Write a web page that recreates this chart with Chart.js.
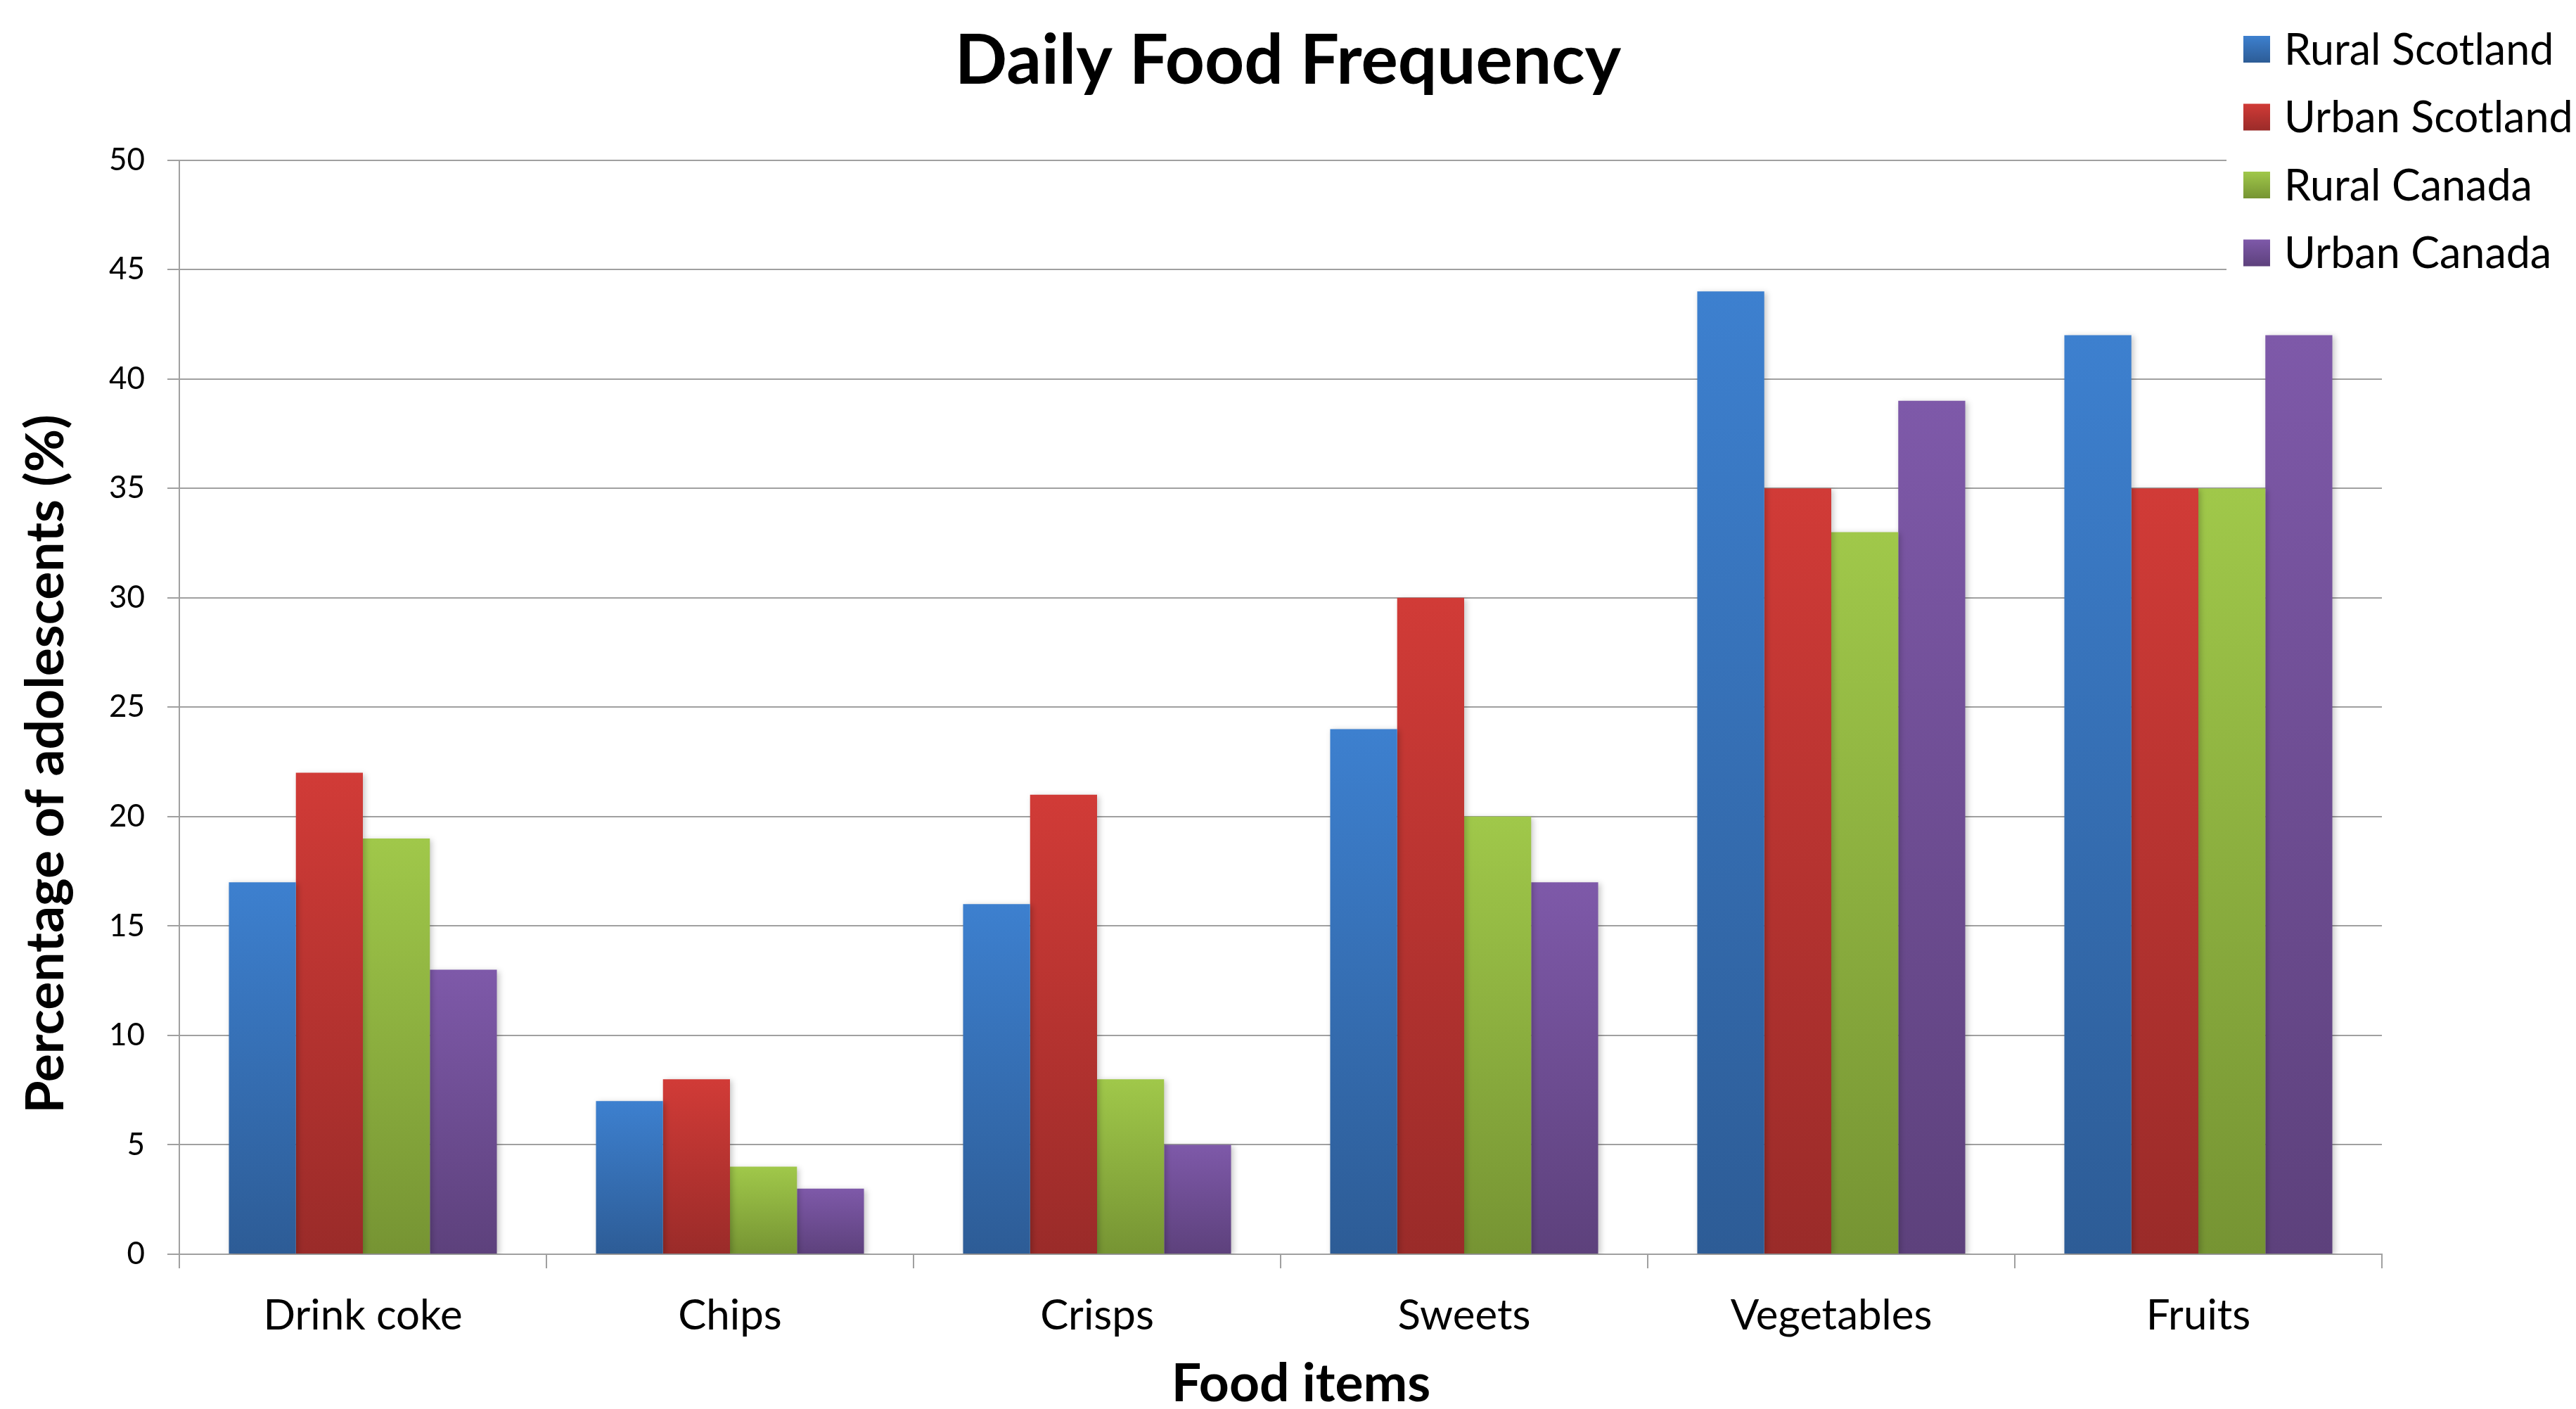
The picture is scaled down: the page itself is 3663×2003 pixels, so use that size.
<!DOCTYPE html>
<html>
<head>
<meta charset="utf-8">
<script src="https://cdn.jsdelivr.net/npm/chart.js@4/dist/chart.umd.min.js"></script>
<style>
  html, body { margin: 0; padding: 0; background: #fff; overflow: hidden; }
  #wrap { width: 3663px; height: 2003px; }
</style>
</head>
<body>
<div id="wrap"><canvas id="c" width="3663" height="2003"></canvas></div>
<script>
// Share of adolescents eating each food item daily (%)
const categories = ['Drink coke', 'Chips', 'Crisps', 'Sweets', 'Vegetables', 'Fruits'];
const seriesNames = ['Rural Scotland', 'Urban Scotland', 'Rural Canada', 'Urban Canada'];
const ruralScotland = [17, 7, 16, 24, 44, 42];
const urbanScotland = [22, 8, 21, 30, 35, 35];
const ruralCanada   = [19, 4, 8, 20, 33, 35];
const urbanCanada   = [13, 3, 5, 17, 39, 42];
const yTickValues   = [0, 5, 10, 15, 20, 25, 30, 35, 40, 45, 50];

const chartTitle = 'Daily Food Frequency';
const xTitle = 'Food items';
const yTitle = 'Percentage of adolescents (%)';

// top / bottom shades for each series' vertical gradient
const shades = [
  ['#3D80CF', '#2D5C96'],
  ['#D13B37', '#9A2B29'],
  ['#A0C84A', '#769433'],
  ['#7E59A9', '#5D417C']
];

const FONT = 'Lato, "Open Sans", sans-serif';

function barGradient(top, bottom) {
  return function (ctx) {
    const chart = ctx.chart;
    const y = chart.scales && chart.scales.y;
    if (!y || ctx.raw == null || !isFinite(y.top)) return top;
    const y0 = y.getPixelForValue(ctx.raw);
    const y1 = y.getPixelForValue(0);
    if (!isFinite(y0) || !isFinite(y1) || y0 === y1) return top;
    const g = chart.ctx.createLinearGradient(0, y0, 0, y1);
    g.addColorStop(0, top);
    g.addColorStop(1, bottom);
    return g;
  };
}

const seriesValues = [ruralScotland, urbanScotland, ruralCanada, urbanCanada];
const datasets = seriesNames.map((name, i) => ({
  label: name,
  data: seriesValues[i],
  backgroundColor: barGradient(shades[i][0], shades[i][1]),
  borderWidth: 0,
  categoryPercentage: 0.73,
  barPercentage: 1.0
}));

// soft drop shadow under the bars
const barShadow = {
  id: 'barShadow',
  beforeDatasetsDraw(chart) {
    const c = chart.ctx;
    c.save();
    c.shadowColor = 'rgba(0,0,0,0.22)';
    c.shadowBlur = 8;
    c.shadowOffsetX = 3;
    c.shadowOffsetY = 2;
  },
  afterDatasetsDraw(chart) {
    chart.ctx.restore();
  }
};

// axis titles, placed slightly off the plot centre
const axisTitles = {
  id: 'axisTitles',
  afterDraw(chart) {
    const c = chart.ctx;
    c.save();
    c.fillStyle = '#000';
    c.font = 'bold 75px ' + FONT;
    c.textAlign = 'center';
    c.textBaseline = 'middle';
    c.fillText(xTitle, 1850, 1968);
    c.translate(66, 1086);
    c.rotate(-Math.PI / 2);
    c.fillText(yTitle, 0, 0);
    c.restore();
  }
};

// legend box in the upper right corner, over the plot's top gridlines
const cornerLegend = {
  id: 'cornerLegend',
  afterDraw(chart) {
    const c = chart.ctx;
    c.save();
    c.fillStyle = '#ffffff';
    c.fillRect(3166, 0, 3663 - 3166, 410);
    c.font = '61px ' + FONT;
    c.textBaseline = 'middle';
    c.textAlign = 'left';
    chart.data.datasets.forEach((ds, i) => {
      const cy = 70 + i * 96.5;
      const sx = 3190, size = 38;
      const g = c.createLinearGradient(0, cy - size / 2, 0, cy + size / 2);
      g.addColorStop(0, shades[i][0]);
      g.addColorStop(1, shades[i][1]);
      c.fillStyle = g;
      c.fillRect(sx, cy - size / 2, size, size);
      c.fillStyle = '#000';
      c.fillText(ds.label, 3248, cy + 2);
    });
    c.restore();
  }
};

new Chart(document.getElementById('c'), {
  type: 'bar',
  data: { labels: categories, datasets },
  plugins: [barShadow, axisTitles, cornerLegend],
  options: {
    responsive: false,
    devicePixelRatio: 1,
    animation: false,
    layout: { padding: 0 },
    plugins: {
      legend: { display: false },
      tooltip: { enabled: false },
      title: {
        display: true,
        text: chartTitle,
        color: '#000',
        font: { family: FONT, size: 98, weight: 'bold', lineHeight: 1.2 },
        padding: { top: 29, bottom: 81 }
      }
    },
    scales: {
      x: {
        offset: true,
        grid: {
          display: true,
          offset: true,
          drawOnChartArea: false,
          drawTicks: true,
          tickLength: 20,
          color: '#A0A0A0',
          lineWidth: 2
        },
        border: { display: true, color: '#A0A0A0', width: 2 },
        ticks: {
          color: '#000',
          font: { family: FONT, size: 60 },
          padding: 32,
          maxRotation: 0
        },
        afterFit(scale) { scale.height = 220; }
      },
      y: {
        min: 0,
        max: 50,
        afterBuildTicks(scale) { scale.ticks = yTickValues.map(v => ({ value: v })); },
        grid: {
          color: '#A0A0A0',
          lineWidth: 2,
          drawTicks: true,
          tickLength: 17
        },
        border: { display: true, color: '#A0A0A0', width: 2 },
        ticks: {
          color: '#000',
          font: { family: FONT, size: 44 },
          padding: 32
        },
        afterFit(scale) { scale.width = 255; }
      },
      // empty right-hand margin that holds the legend column
      margin: {
        type: 'linear',
        position: 'right',
        display: true,
        grid: { display: false },
        border: { display: false },
        ticks: { display: false },
        afterFit(scale) { scale.width = 276; }
      }
    }
  }
});
</script>
</body>
</html>
